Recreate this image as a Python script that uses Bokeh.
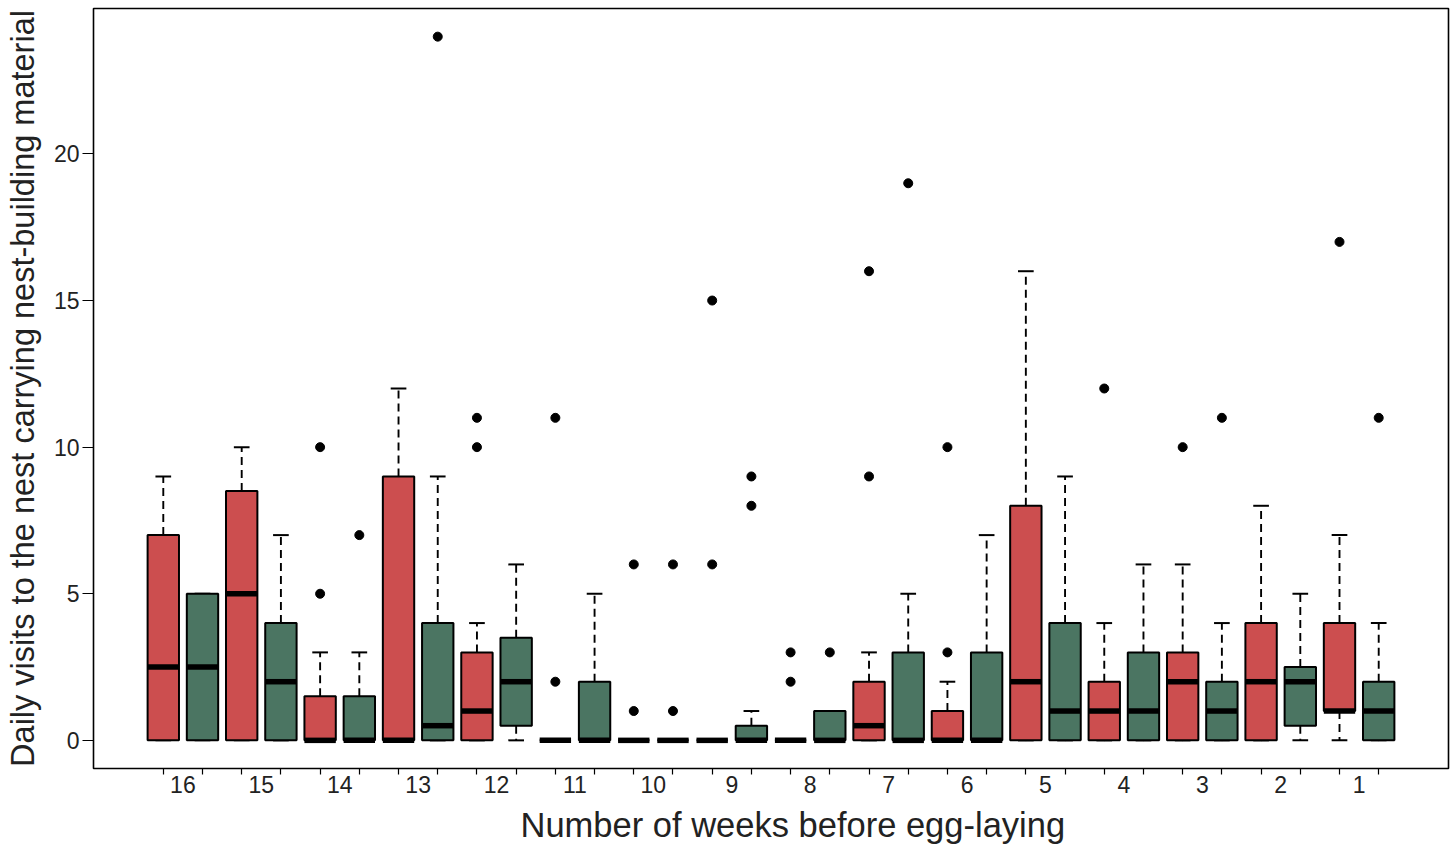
from bokeh.plotting import figure
from bokeh.models import FixedTicker, Range1d, ColumnDataSource, Title
from bokeh.embed import file_html
from bokeh.resources import INLINE

# ---- data (weeks before egg-laying, 16 -> 1) ----
weeks = ["16", "15", "14", "13", "12", "11", "10", "9", "8", "7", "6", "5", "4", "3", "2", "1"]

red_q1 = [0, 0, 0, 0, 0, 0, 0, 0, 0, 0, 0, 0, 0, 0, 0, 1]
red_med = [2.5, 5, 0, 0, 1, 0, 0, 0, 0, 0.5, 0, 2, 1, 2, 2, 1]
red_q3 = [7, 8.5, 1.5, 9, 3, 0, 0, 0, 0, 2, 1, 8, 2, 3, 4, 4]
red_lo = [0, 0, 0, 0, 0, 0, 0, 0, 0, 0, 0, 0, 0, 0, 0, 0]
red_hi = [9, 10, 3, 12, 4, 0, 0, 0, 0, 3, 2, 16, 4, 6, 8, 7]
red_out = [[], [], [5, 10], [], [10, 11], [2, 11], [1, 6], [6, 15], [2, 3], [9, 16], [3, 10], [], [12], [10], [], [17]]

green_q1 = [0, 0, 0, 0, 0.5, 0, 0, 0, 0, 0, 0, 0, 0, 0, 0.5, 0]
green_med = [2.5, 2, 0, 0.5, 2, 0, 0, 0, 0, 0, 0, 1, 1, 1, 2, 1]
green_q3 = [5, 4, 1.5, 4, 3.5, 2, 0, 0.5, 1, 3, 3, 4, 3, 2, 2.5, 2]
green_lo = [0, 0, 0, 0, 0, 0, 0, 0, 0, 0, 0, 0, 0, 0, 0, 0]
green_hi = [5, 7, 3, 9, 6, 5, 0, 1, 1, 5, 7, 9, 6, 4, 5, 4]
green_out = [[], [], [7], [24], [], [], [1, 6], [8, 9], [3], [19], [], [], [], [11], [], [11]]

x_title = "Number of weeks before egg-laying"
y_title = "Daily visits to the nest carrying nest-building material"

RED = "#CC4E4F"
GREEN = "#4B7562"

BOXW = 0.8
CAPW = 0.4

p = figure(width=1456, height=852, output_backend="svg", toolbar_location=None,
           x_range=Range1d(-0.78, 33.78), y_range=Range1d(-0.96, 24.96),
           min_border_left=93, min_border_right=8, min_border_top=8, min_border_bottom=84)
p.xgrid.visible = False
p.ygrid.visible = False
p.outline_line_color = "black"
p.outline_line_width = 1.6
p.background_fill_color = "white"
p.border_fill_color = "white"


def draw(xs, q1, med, q3, lo, hi, outs, color):
    src = ColumnDataSource(dict(
        x=xs, q1=q1, med=med, q3=q3, lo=lo, hi=hi,
        xl=[x - BOXW / 2 for x in xs], xr=[x + BOXW / 2 for x in xs],
        cl=[x - CAPW / 2 for x in xs], cr=[x + CAPW / 2 for x in xs],
    ))
    # whiskers
    p.segment(x0="x", y0="q3", x1="x", y1="hi", source=src, line_color="black",
              line_width=1.9, line_dash="8 5")
    p.segment(x0="x", y0="q1", x1="x", y1="lo", source=src, line_color="black",
              line_width=1.9, line_dash="8 5")
    p.segment(x0="cl", y0="hi", x1="cr", y1="hi", source=src, line_color="black", line_width=2)
    p.segment(x0="cl", y0="lo", x1="cr", y1="lo", source=src, line_color="black", line_width=2)
    # boxes
    p.quad(left="xl", right="xr", bottom="q1", top="q3", source=src,
           fill_color=color, line_color="black", line_width=2)
    # medians
    p.segment(x0="xl", y0="med", x1="xr", y1="med", source=src, line_color="black", line_width=5.5)
    # outliers
    ox, oy = [], []
    for x, vals in zip(xs, outs):
        for v in vals:
            ox.append(x)
            oy.append(v)
    p.scatter(ox, oy, size=9, fill_color="black", line_color="black", marker="circle")


red_x = [1 + 2 * i for i in range(len(weeks))]
green_x = [2 + 2 * i for i in range(len(weeks))]
draw(red_x, red_q1, red_med, red_q3, red_lo, red_hi, red_out, RED)
draw(green_x, green_q1, green_med, green_q3, green_lo, green_hi, green_out, GREEN)

# x axis: labels between the pair, small ticks at each box
label_pos = [1.5 + 2 * i for i in range(len(weeks))]
p.xaxis.ticker = FixedTicker(ticks=label_pos, minor_ticks=list(range(1, 2 * len(weeks) + 1)))
p.xaxis.major_label_overrides = {lp: w for lp, w in zip(label_pos, weeks)}
p.xaxis.major_tick_line_color = None
p.xaxis.major_tick_out = 0
p.xaxis.major_tick_in = 0
p.xaxis.minor_tick_out = 6
p.xaxis.minor_tick_in = 0
p.xaxis.minor_tick_line_color = "black"
p.xaxis.minor_tick_line_width = 1.2
p.xaxis.axis_line_color = None
p.xaxis.major_label_standoff = 1

p.yaxis.ticker = FixedTicker(ticks=[0, 5, 10, 15, 20])
p.yaxis.major_tick_out = 11
p.yaxis.major_tick_in = 0
p.yaxis.major_tick_line_color = "black"
p.yaxis.major_tick_line_width = 1.2
p.yaxis.minor_tick_line_color = None
p.yaxis.axis_line_color = None
p.yaxis.major_label_standoff = 3
p.yaxis.axis_label = y_title

for ax in (p.xaxis[0], p.yaxis[0]):
    ax.major_label_text_font = "Liberation Sans"
    ax.major_label_text_font_size = "23px"
    ax.major_label_text_color = "#222222"
    ax.axis_label_text_font = "Liberation Sans"
    ax.axis_label_text_font_style = "normal"
    ax.axis_label_text_color = "#222222"

p.yaxis.major_label_orientation = "horizontal"
p.yaxis.axis_label_text_font_size = "32.5px"
p.yaxis.axis_label_standoff = 10

# x axis title (placed slightly right of centre, as in the original)
xt = Title(text=x_title, align="left", offset=427, text_font="Liberation Sans",
           text_font_size="34.5px", text_font_style="normal", text_color="#222222",
           standoff=16)
p.add_layout(xt, "below")

open("out.html", "w").write(file_html(p, INLINE))
